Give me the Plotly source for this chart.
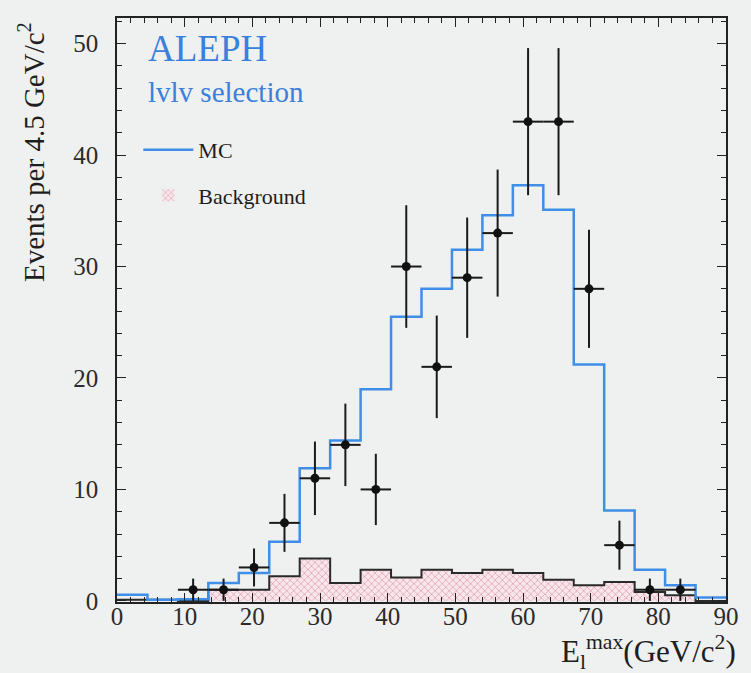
import plotly.graph_objects as go

# ---------------- data ----------------
bin_edges = [0, 4.5, 9, 13.5, 18, 22.5, 27, 31.5, 36, 40.5, 45,
             49.5, 54, 58.5, 63, 67.5, 72, 76.5, 81, 85.5, 90]
bin_centers = [2.25, 6.75, 11.25, 15.75, 20.25, 24.75, 29.25, 33.75, 38.25, 42.75,
               47.25, 51.75, 56.25, 60.75, 65.25, 69.75, 74.25, 78.75, 83.25, 87.75]
bin_width = 4.5

mc_values = [0.55, 0.1, 0.15, 1.6, 2.5, 5.3, 11.9, 14.4, 19.0, 25.5,
             28.0, 31.5, 34.6, 37.3, 35.1, 21.2, 8.1, 2.8, 1.4, 0.3]
background_values = [0.1, 0.1, 0.0, 1.0, 1.0, 2.2, 3.8, 1.6, 2.8, 2.1,
                     2.8, 2.5, 2.8, 2.5, 1.9, 1.4, 1.7, 0.8, 0.5, 0.0]
data_values = [None, None, 1, 1, 3, 7, 11, 14, 10, 30,
               21, 29, 33, 43, 43, 28, 5, 1, 1, None]
data_errors = [None, None, 1.0, 1.0, 1.7, 2.6, 3.3, 3.7, 3.2, 5.5,
               4.6, 5.4, 5.7, 6.6, 6.6, 5.3, 2.2, 1.0, 1.0, None]

x_ticks = [0, 10, 20, 30, 40, 50, 60, 70, 80, 90]
y_ticks = [0, 10, 20, 30, 40, 50]

# ---------------- style ----------------
BG = "#eff0f0"
BLUE = "#3f8ee8"
TXT_BLUE = "#3a80dc"
SERIF = "Liberation Serif, Times New Roman, serif"

fig = go.Figure()

# background histogram (hatched fill)
fig.add_trace(go.Bar(
    x=bin_centers, y=background_values, width=bin_width,
    name="Background",
    legendgroup="bkg", legendrank=2,
    marker=dict(color="#f6e3e8", line=dict(width=0),
                pattern=dict(shape="x", fgcolor="#e4a5b6", bgcolor="#f7e7eb",
                             size=5, solidity=0.3, fillmode="replace")),
    hoverinfo="skip",
))

# background outline as step line
fig.add_trace(go.Scatter(
    x=bin_edges, y=background_values + background_values[-1:],
    mode="lines", line=dict(color="#2a2a2a", width=2, shape="hv"),
    showlegend=False, hoverinfo="skip",
))

# MC step histogram
fig.add_trace(go.Scatter(
    x=bin_edges, y=mc_values + mc_values[-1:],
    mode="lines", line=dict(color=BLUE, width=2.5, shape="hv"),
    name="MC", legendgroup="mc", legendrank=1,
))

# data points
fig.add_trace(go.Scatter(
    x=bin_centers, y=data_values, mode="markers",
    marker=dict(color="#111111", size=9, symbol="circle"),
    error_y=dict(type="data", array=data_errors, color="#1a1a1a", thickness=2, width=0),
    error_x=dict(type="constant", value=bin_width / 2, color="#1a1a1a", thickness=2, width=0),
    showlegend=False,
))

axis_common = dict(
    showline=True, linecolor="#222222", linewidth=1.5, mirror="allticks",
    ticks="inside", ticklen=9, tickwidth=1.2, tickcolor="#222222",
    showgrid=False, zeroline=False,
    tickfont=dict(family=SERIF, size=25, color="#2b2b2b"),
)

fig.update_xaxes(
    range=[0, 90], tickvals=x_ticks,
    minor=dict(dtick=2, ticklen=5, tickcolor="#222222", ticks="inside", showgrid=False),
    ticklabelstandoff=-9,
    **axis_common,
)
fig.update_yaxes(
    range=[-0.1, 52.3], tickvals=y_ticks,
    minor=dict(dtick=2, ticklen=5, tickcolor="#222222", ticks="inside", showgrid=False),
    ticklabelstandoff=12,
    **axis_common,
)

fig.update_layout(
    width=751, height=673,
    margin=dict(l=117, r=13, t=18, b=71),
    paper_bgcolor=BG, plot_bgcolor=BG,
    bargap=0,
    showlegend=True,
    legend=dict(
        x=0.035, y=0.81, xanchor="left", yanchor="top",
        bgcolor="rgba(0,0,0,0)", borderwidth=0,
        font=dict(family=SERIF, size=22, color="#1e1e1e"),
        itemwidth=50, tracegroupgap=14,
        traceorder="grouped",
    ),
    annotations=[
        dict(text="ALEPH", x=0.048, y=0.947, xref="paper", yref="paper",
             xanchor="left", yanchor="middle", showarrow=False,
             font=dict(family=SERIF, size=37, color=TXT_BLUE)),
        dict(text="lvlv selection", x=0.048, y=0.873, xref="paper", yref="paper",
             xanchor="left", yanchor="middle", showarrow=False,
             font=dict(family=SERIF, size=29, color=TXT_BLUE)),
        dict(text="Events per 4.5 GeV/c<sup>2</sup>", x=-0.14, y=0.77,
             xref="paper", yref="paper", xanchor="center", yanchor="middle",
             textangle=-90, showarrow=False,
             font=dict(family=SERIF, size=29, color="#1e1e1e")),
        dict(text="E<sub>l</sub><sup>max</sup>(GeV/c<sup>2</sup>)", x=1.02, y=-0.086,
             xref="paper", yref="paper", xanchor="right", yanchor="middle",
             showarrow=False,
             font=dict(family=SERIF, size=31, color="#1e1e1e")),
    ],
)

fig.write_html("out.html")
